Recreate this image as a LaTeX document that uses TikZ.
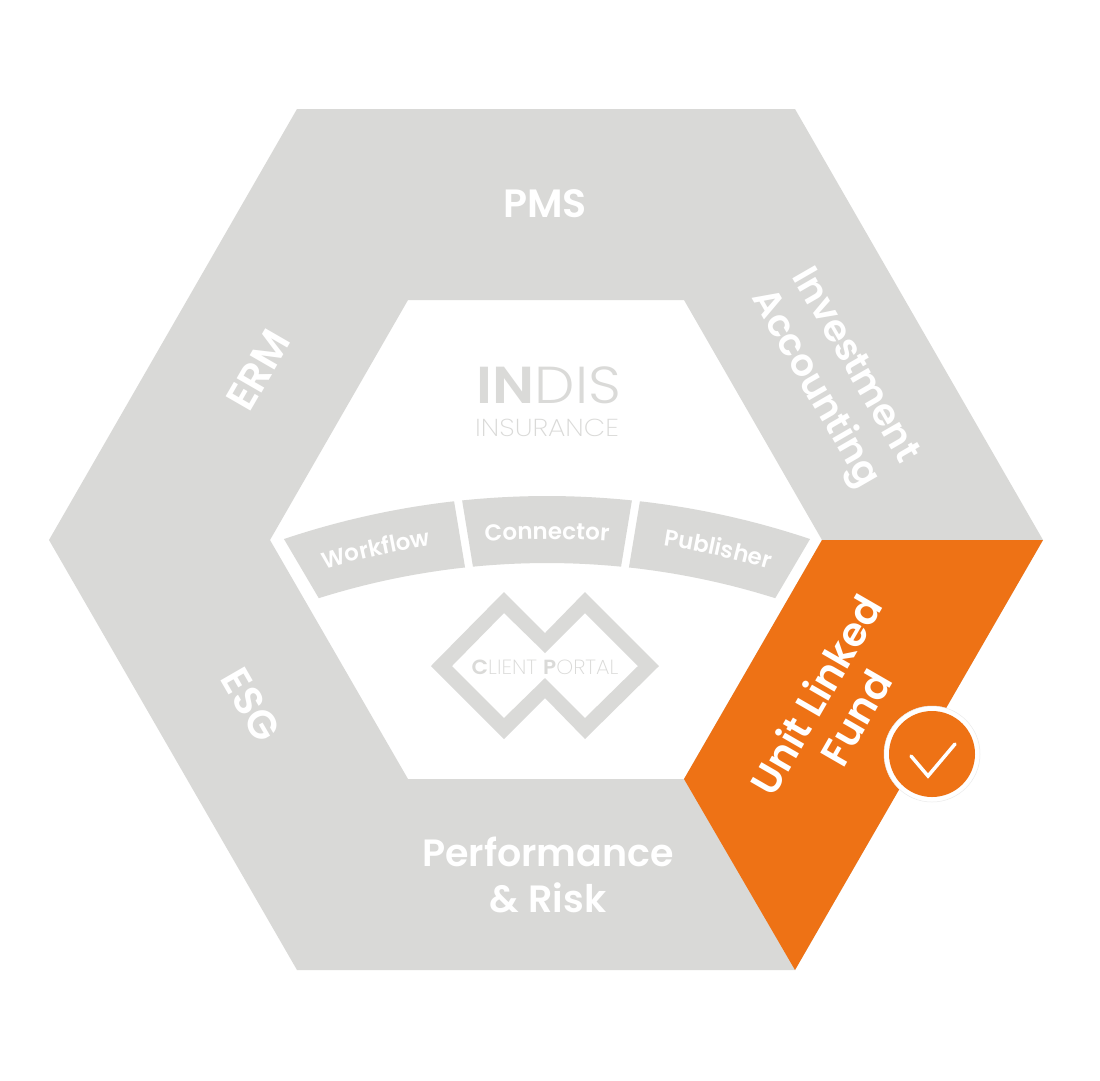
\documentclass[tikz,border=0pt]{standalone}
\usepackage{fontspec}
\usetikzlibrary{decorations.text}
\setmainfont{Poppins}[BoldFont={Poppins SemiBold}]
\newfontfamily\lightfont{Poppins Light}
\newfontfamily\thinfont{Poppins ExtraLight}
\newfontfamily\heavyfont{Poppins SemiBold}
\definecolor{ringgrey}{HTML}{D9D9D7}
\definecolor{logogrey}{HTML}{DADAD8}
\definecolor{unitorange}{HTML}{EE7215}
\newcommand{\fsz}[1]{\fontsize{#1}{46}\selectfont}
\tikzset{
  ringlabel/.style={text=white,font=\bfseries\fsz{#1},align=center,inner sep=0pt},
  arclabel/.style={decorate,decoration={text along path,text align=center,text={|\bfseries\fsz{23}\color{white}|#1}}},
  logolabel/.style={text=logogrey,inner sep=0pt,anchor=center}
}
\begin{document}
\begin{tikzpicture}[x=1pt,y=-1pt]
\useasboundingbox (0,0) rectangle (1100,1080);
\fill[white] (0,0) rectangle (1100,1080);
% ring
\fill[ringgrey,even odd rule] (297,109)--(795,109)--(1043,540)--(795,970)--(297,970)--(49,540)--cycle
  (408,300)--(684,300)--(822,540)--(684,779)--(408,779)--(270,540)--cycle;
\fill[unitorange] (822,540)--(1043,540)--(795,970)--(684,779)--cycle;
% arc segments
\fill[ringgrey] plot[domain=-18.57:-6.46,samples=30] ({547+826*sin(\x)},{1322-826*cos(\x)})
  -- plot[domain=-6.2:-17.5,samples=30] ({547+759*sin(\x)},{1322-759*cos(\x)}) -- cycle;
\fill[ringgrey] plot[domain=-5.9:5.9,samples=30] ({547+826*sin(\x)},{1322-826*cos(\x)})
  -- plot[domain=5.6:-5.6,samples=30] ({547+759*sin(\x)},{1322-759*cos(\x)}) -- cycle;
\fill[ringgrey] plot[domain=6.46:18.57,samples=30] ({547+826*sin(\x)},{1322-826*cos(\x)})
  -- plot[domain=17.5:6.2,samples=30] ({547+759*sin(\x)},{1322-759*cos(\x)}) -- cycle;
\path[arclabel=Workflow] plot[domain=-22:-3,samples=40] ({547+785*sin(\x)},{1322-785*cos(\x)});
\path[arclabel=Connector] plot[domain=-9.5:9.5,samples=40] ({547+783*sin(\x)},{1322-783*cos(\x)});
\path[arclabel=Publisher] plot[domain=3:22,samples=40] ({547+785*sin(\x)},{1322-785*cos(\x)});
% ring labels
\node[ringlabel=39.5] (pms) at (545,204) {PMS};
\node[ringlabel=37.5,rotate=-60] (inv) at (833,378) {Investment\\Accounting};
\node[ringlabel=40,rotate=60] (ulf) at (835,706) {Unit Linked\\Fund};
\node[ringlabel=38] (perf) at (548,875) {Performance\\\& Risk};
\node[ringlabel=40,rotate=-60] (esg) at (251,705) {ESG};
\node[ringlabel=41,rotate=60] (erm) at (258,370) {ERM};
% logos
\node[logolabel,xscale=1.1] (indis) at (549,385) {\fsz{52}{\heavyfont IN}{\lightfont DIS}};
\node[logolabel,xscale=1.13] (insur) at (547,428) {\fsz{24.5}\thinfont INSURANCE};
\fill[logogrey,even odd rule] (504,592)--(545,633)--(585,592)--(659,666)--(585,739)--(545,698)--(504,739)--(431,666)--cycle
  (504,613)--(545,653)--(585,613)--(638,666)--(585,718)--(545,678)--(504,718)--(452,666)--cycle;
\node[logolabel,xscale=1.05] (portal) at (545,667) {\fsz{20.5}{\heavyfont C}{\thinfont LIENT }{\heavyfont P}{\thinfont ORTAL}};
% badge
\node[circle,draw=black!8,line width=.5pt,fill=white,minimum size=96pt,inner sep=0pt] (badgeo) at (932,754) {};
\node[circle,fill=unitorange,minimum size=86pt,inner sep=0pt] (badgei) at (932,754) {};
\draw[white,line width=3.5pt,line cap=round,line join=miter] (911,756)--(928,776)--(955,744);
\end{tikzpicture}
\end{document}
